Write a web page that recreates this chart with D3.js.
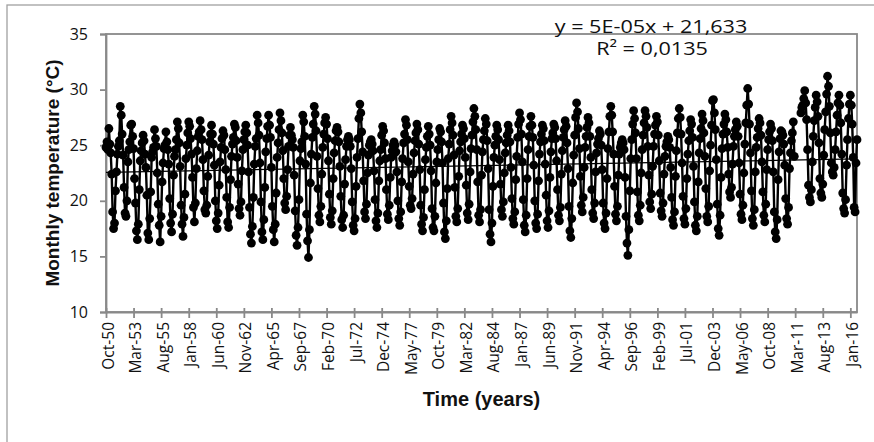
<!DOCTYPE html>
<html>
<head>
<meta charset="utf-8">
<script src="https://cdn.jsdelivr.net/npm/d3@7"></script>
<style>
  body { margin: 0; background: #fff; }
  svg { display: block; }
</style>
</head>
<body>
<div id="chart"></div>
<script>
// Monthly temperature (°C), first value = Oct 1950, one value per month
const t1950s = [
  24.8, 25.3, 24.6,                                                   // 1950 Oct-Dec
  26.5, 25.1, 24.3, 22.4, 19.0, 17.5, 18.0, 20.9, 22.6, 24.2, 24.9, 25.4, // 1951
  28.5, 27.7, 26.0, 24.1, 21.2, 18.9, 18.6, 20.0, 23.5, 24.6, 25.3, 26.8, // 1952
  26.9, 25.8, 24.7, 22.0, 19.8, 17.3, 16.5, 17.9, 21.0, 23.6, 24.5, 25.2, // 1953
  25.9, 25.4, 24.2, 23.0, 20.5, 17.1, 16.5, 18.4, 20.8, 23.9, 24.4, 24.8, // 1954
  26.4, 25.6, 24.9, 22.5, 19.7, 17.8, 16.3, 18.6, 21.7, 23.4, 24.7, 25.0, // 1955
  26.2, 25.3, 24.6, 23.3, 20.2, 18.0, 17.2, 18.8, 22.3, 24.0, 24.6, 25.5, // 1956
  27.1, 26.5, 25.2, 23.1, 19.6, 17.9, 16.8, 18.5, 20.6, 23.8, 25.0, 26.1, // 1957
  27.1, 26.7, 25.6, 24.2, 22.1, 19.4, 18.1, 19.8, 22.9, 24.5, 25.8, 26.2, // 1958
  27.2, 26.4, 25.5, 23.7, 20.9, 19.2, 18.9, 19.6, 22.2, 24.1, 25.3, 26.0  // 1959
];
const t1960s = [
  26.8, 26.0, 25.1, 23.2, 20.0, 18.2, 17.5, 18.9, 21.4, 23.5, 24.8, 25.6, // 1960
  26.3, 25.9, 24.6, 22.8, 20.3, 18.1, 17.6, 19.4, 21.9, 24.0, 25.1, 25.7, // 1961
  26.9, 26.6, 25.4, 23.9, 21.5, 19.3, 18.7, 19.9, 22.7, 24.6, 25.5, 26.2, // 1962
  26.8, 26.1, 25.0, 22.6, 19.4, 17.0, 16.2, 17.7, 20.3, 23.3, 24.9, 25.6, // 1963
  27.7, 27.0, 25.9, 23.4, 19.9, 17.2, 16.5, 18.3, 21.2, 24.4, 25.6, 26.7, // 1964
  27.7, 26.8, 25.7, 23.0, 19.5, 17.4, 16.3, 17.9, 20.7, 23.9, 25.2, 26.4, // 1965
  27.9, 27.2, 26.1, 24.5, 22.0, 19.8, 19.2, 20.4, 22.8, 24.9, 25.9, 26.6, // 1966
  25.9, 25.5, 24.8, 22.3, 19.1, 16.9, 16.0, 17.6, 20.1, 23.6, 24.7, 25.3, // 1967
  27.7, 27.1, 25.8, 23.3, 18.8, 16.4, 14.9, 17.4, 21.6, 24.2, 25.7, 26.9, // 1968
  28.5, 27.8, 26.3, 24.0, 21.1, 18.7, 18.1, 19.5, 22.4, 24.8, 26.0, 27.0  // 1969
];
const t1970s = [
  27.5, 26.9, 25.6, 23.6, 20.6, 18.5, 17.9, 19.1, 22.0, 24.3, 25.4, 26.3, // 1970
  26.6, 26.2, 25.3, 23.1, 20.4, 18.3, 17.6, 18.7, 21.5, 23.7, 24.9, 25.5, // 1971
  25.8, 25.5, 24.9, 22.9, 19.9, 17.8, 17.3, 18.4, 21.3, 23.9, 25.6, 27.4, // 1972
  28.7, 27.9, 26.2, 24.4, 21.8, 19.0, 18.4, 19.7, 22.5, 24.1, 25.0, 25.3, // 1973
  25.5, 25.1, 24.5, 22.7, 20.1, 18.2, 17.6, 18.9, 21.8, 23.6, 24.6, 25.9, // 1974
  26.7, 26.3, 25.2, 23.8, 21.0, 18.8, 18.3, 19.6, 22.1, 23.9, 24.5, 25.0, // 1975
  25.3, 25.0, 24.4, 22.6, 20.0, 18.4, 17.8, 19.0, 21.7, 23.8, 25.2, 26.0, // 1976
  27.3, 26.8, 25.5, 23.5, 21.3, 19.6, 19.3, 20.2, 22.4, 24.3, 25.4, 26.1, // 1977
  26.9, 26.4, 25.1, 22.8, 19.6, 17.9, 17.3, 18.5, 21.0, 23.7, 24.8, 25.8, // 1978
  26.7, 26.0, 25.0, 22.7, 19.3, 17.6, 17.3, 18.6, 21.6, 23.5, 24.6, 25.5  // 1979
];
const t1980s = [
  26.5, 26.2, 25.3, 23.4, 19.8, 17.2, 16.6, 18.2, 21.1, 23.8, 25.1, 26.4, // 1980
  27.6, 27.0, 25.9, 24.1, 21.2, 18.6, 18.1, 19.3, 22.2, 24.5, 25.3, 26.0, // 1981
  26.8, 26.5, 25.6, 23.9, 21.4, 18.9, 18.3, 19.7, 22.6, 24.7, 25.9, 27.1, // 1982
  28.3, 27.6, 26.4, 24.6, 21.7, 18.7, 18.1, 19.2, 22.3, 24.4, 25.5, 26.3, // 1983
  27.4, 26.9, 25.4, 22.9, 19.2, 17.0, 16.3, 18.0, 21.3, 23.9, 25.0, 25.8, // 1984
  26.8, 26.4, 25.5, 23.7, 21.5, 19.2, 18.6, 19.9, 22.5, 24.3, 25.2, 25.9, // 1985
  26.8, 26.3, 25.3, 23.0, 20.2, 18.4, 17.9, 19.0, 21.9, 24.0, 25.7, 26.9, // 1986
  27.9, 27.3, 26.0, 23.5, 20.1, 17.8, 17.2, 18.7, 22.0, 24.6, 25.8, 26.7, // 1987
  27.6, 26.8, 25.7, 23.2, 20.0, 18.0, 17.5, 18.8, 21.8, 24.2, 25.3, 26.0, // 1988
  26.8, 26.5, 25.4, 23.3, 20.5, 18.2, 17.6, 19.1, 22.1, 24.4, 25.6, 26.1  // 1989
];
const t1990s = [
  26.9, 26.6, 25.6, 23.6, 21.0, 18.7, 18.2, 19.4, 22.4, 24.5, 25.7, 26.4, // 1990
  27.2, 26.7, 25.2, 22.9, 19.5, 17.3, 16.7, 18.4, 21.6, 24.1, 25.9, 27.5, // 1991
  28.8, 28.0, 26.5, 24.7, 22.2, 19.6, 19.0, 20.3, 23.0, 24.8, 25.8, 26.6, // 1992
  27.5, 27.0, 25.8, 23.9, 21.0, 18.9, 18.4, 19.8, 22.6, 24.3, 25.1, 25.6, // 1993
  26.3, 26.0, 25.0, 22.8, 19.8, 18.0, 17.5, 18.9, 22.0, 24.7, 26.2, 27.6, // 1994
  28.5, 27.7, 26.2, 24.2, 21.3, 18.8, 18.2, 19.5, 22.3, 24.2, 24.8, 25.2, // 1995
  25.5, 25.2, 24.6, 22.1, 18.6, 16.2, 15.1, 17.4, 20.9, 23.8, 25.5, 26.9, // 1996
  28.1, 27.4, 26.1, 23.8, 20.8, 18.7, 18.2, 19.6, 22.5, 24.6, 25.9, 27.0, // 1997
  28.1, 27.6, 26.6, 24.9, 22.3, 19.9, 19.3, 20.6, 23.1, 24.9, 26.0, 26.8, // 1998
  27.6, 27.1, 25.9, 23.6, 20.7, 19.1, 18.6, 19.8, 22.4, 24.0, 24.9, 25.3  // 1999
];
const t2000s = [
  25.8, 25.5, 24.8, 23.0, 20.3, 18.3, 17.8, 19.0, 22.2, 24.5, 26.1, 27.4, // 2000
  28.3, 27.5, 26.0, 23.4, 20.4, 18.4, 17.9, 19.3, 22.0, 24.2, 25.4, 26.3, // 2001
  27.3, 26.9, 25.7, 23.1, 19.9, 17.8, 17.3, 18.6, 21.7, 24.3, 25.6, 26.5, // 2002
  27.8, 27.2, 26.1, 24.0, 21.1, 18.6, 18.1, 19.5, 22.7, 25.0, 26.8, 29.0, // 2003
  29.1, 27.9, 26.4, 23.7, 19.7, 17.5, 16.9, 18.7, 22.1, 24.7, 26.0, 26.9, // 2004
  27.8, 27.3, 26.2, 24.8, 22.4, 20.8, 20.3, 21.2, 23.3, 24.9, 25.8, 26.4, // 2005
  27.1, 26.7, 25.8, 23.4, 20.6, 18.8, 18.3, 19.6, 22.5, 25.1, 27.0, 28.6, // 2006
  30.1, 28.7, 26.9, 24.3, 20.9, 18.4, 17.8, 19.2, 22.6, 24.8, 25.7, 26.5, // 2007
  27.4, 27.0, 25.9, 23.5, 20.8, 18.7, 18.1, 19.7, 22.8, 24.6, 25.5, 26.2, // 2008
  26.9, 26.5, 25.4, 22.6, 19.0, 17.2, 16.6, 18.3, 21.9, 24.4, 25.6, 26.3  // 2009
];
// null = months missing in the record (early to late 2011)
const t2010s = [
  26.2, 25.9, 25.1, 23.2, 20.2, 18.4, 17.9, 19.4, 22.9, 24.3, 25.4, 26.1, // 2010
  27.1, 24.0, null, null, null, null, null, null, 27.9, 28.4, 28.6, 29.2, // 2011
  29.9, 28.8, 27.3, 24.6, 21.4, 20.3, 19.9, 21.0, 23.5, 25.8, 27.2, 28.4, // 2012
  29.5, 28.9, 27.6, 25.2, 22.0, 20.7, 20.3, 21.5, 24.1, 26.4, 28.0, 29.6, // 2013
  31.2, 30.3, 28.5, 26.1, 23.4, 22.6, 22.3, 23.0, 24.6, 26.2, 27.7, 28.8, // 2014
  29.5, 28.6, 27.0, 24.2, 20.7, 19.3, 18.9, 20.1, 23.2, 25.5, 27.4, 28.7, // 2015
  29.5, 28.6, 26.9, 23.9, 19.4, 19.0, 23.4, 25.5                          // 2016 Jan-Aug
];

const yTicks = [10, 15, 20, 25, 30, 35];
const xTickLabels = ["Oct-50", "Mar-53", "Aug-55", "Jan-58", "Jun-60", "Nov-62", "Apr-65",
  "Sep-67", "Feb-70", "Jul-72", "Dec-74", "May-77", "Oct-79", "Mar-82", "Aug-84", "Jan-87",
  "Jun-89", "Nov-91", "Apr-94", "Sep-96", "Feb-99", "Jul-01", "Dec-03", "May-06", "Oct-08",
  "Mar-11", "Aug-13", "Jan-16"];

// Excel linear trendline (x = Excel date serial)
const trendSlope = 5e-5;
const trendIntercept = 21.633;
const equationText = "y = 5E-05x + 21,633";
const r2Text = "R\u00B2 = 0,0135";

const width = 874, height = 442;
const plot = { left: 106, right: 857, top: 34, bottom: 312 };

const start = new Date(1950, 9, 1);
const values = [t1950s, t1960s, t1970s, t1980s, t1990s, t2000s, t2010s].flat();
const data = values.map((v, i) => ({ date: d3.timeMonth.offset(start, i), v }));

// tick labels like "Oct-50" -> dates (years 50..99 are 19xx)
const parseTick = s => {
  const d = d3.timeParse("%b-%y")(s);
  if (d.getFullYear() > 2030) d.setFullYear(d.getFullYear() - 100);
  return d;
};

const x = d3.scaleTime()
  .domain(d3.extent(data, d => d.date))
  .range([plot.left, plot.right]);
const y = d3.scaleLinear()
  .domain([10, 35])
  .range([plot.bottom, plot.top]);

const svg = d3.select("#chart").append("svg")
  .attr("width", width)
  .attr("height", height);

// outer chart border (only top/left visible in the crop)
svg.append("rect")
  .attr("x", 7).attr("y", 5)
  .attr("width", 900).attr("height", 470)
  .attr("fill", "#fff")
  .attr("stroke", "#a0a0a0")
  .attr("stroke-width", 1.3);

// plot area frame
svg.append("rect")
  .attr("x", plot.left).attr("y", plot.top)
  .attr("width", plot.right - plot.left)
  .attr("height", plot.bottom - plot.top)
  .attr("fill", "none")
  .attr("stroke", "#898989")
  .attr("stroke-width", 1.8);

// y axis ticks and labels
const yAxis = svg.append("g").attr("transform", `translate(${plot.left},0)`)
  .call(d3.axisLeft(y).tickValues(yTicks).tickSize(6).tickPadding(12).tickFormat(d3.format("d")));
yAxis.select(".domain").attr("stroke", "#898989").attr("stroke-width", 1.8);
yAxis.selectAll(".tick line").attr("stroke", "#898989").attr("stroke-width", 1.8);
yAxis.selectAll(".tick text")
  .attr("font-family", "'Open Sans', sans-serif")
  .attr("font-size", 16)
  .attr("fill", "#111");

// x axis ticks and rotated labels
const xAxis = svg.append("g").attr("transform", `translate(0,${plot.bottom})`)
  .call(d3.axisBottom(x).tickValues(xTickLabels.map(parseTick)).tickSize(0).tickFormat(""));
xAxis.select(".domain").attr("stroke", "#898989").attr("stroke-width", 1.8);
xAxis.selectAll(".tick line").remove();
xAxis.selectAll(".tick").append("line")
  .attr("y1", -4).attr("y2", 6)
  .attr("stroke", "#898989").attr("stroke-width", 1.8);
xAxis.selectAll(".tick text").remove();
xAxis.selectAll(".tick").append("text")
  .data(xTickLabels)
  .attr("transform", "translate(1,10) rotate(-90)")
  .attr("text-anchor", "end")
  .attr("dominant-baseline", "central")
  .attr("font-family", "'Open Sans', sans-serif")
  .attr("font-size", 15.5)
  .attr("fill", "#111")
  .text(d => d);

// temperature line with markers
const line = d3.line()
  .defined(d => d.v != null)
  .x(d => x(d.date))
  .y(d => y(d.v));

svg.append("path")
  .datum(data)
  .attr("fill", "none")
  .attr("stroke", "#000")
  .attr("stroke-width", 2.4)
  .attr("stroke-linejoin", "round")
  .attr("d", line);

svg.append("g")
  .selectAll("circle")
  .data(data.filter(d => d.v != null))
  .join("circle")
  .attr("cx", d => x(d.date))
  .attr("cy", d => y(d.v))
  .attr("r", 4.4)
  .attr("fill", "#000");

// trendline
const excelSerial = d => d3.timeDay.count(new Date(1899, 11, 30), d);
const trendEnds = d3.extent(data, d => d.date);
svg.append("line")
  .attr("x1", x(trendEnds[0]))
  .attr("x2", x(trendEnds[1]))
  .attr("y1", y(trendSlope * excelSerial(trendEnds[0]) + trendIntercept))
  .attr("y2", y(trendSlope * excelSerial(trendEnds[1]) + trendIntercept))
  .attr("stroke", "#000")
  .attr("stroke-width", 1.3);

// trend equation
svg.append("text")
  .attr("transform", "translate(651,33) scale(1.2,1)")
  .attr("text-anchor", "middle")
  .attr("font-family", "'Open Sans', sans-serif")
  .attr("font-size", 18)
  .attr("fill", "#111")
  .text(equationText);
svg.append("text")
  .attr("transform", "translate(652,55) scale(1.2,1)")
  .attr("text-anchor", "middle")
  .attr("font-family", "'Open Sans', sans-serif")
  .attr("font-size", 18)
  .attr("fill", "#111")
  .text(r2Text);

// axis titles
svg.append("text")
  .attr("transform", `translate(59,${(plot.top + plot.bottom) / 2}) rotate(-90)`)
  .attr("text-anchor", "middle")
  .attr("font-family", "'Liberation Sans', Arial, sans-serif")
  .attr("font-weight", "bold")
  .attr("font-size", 19)
  .attr("fill", "#111")
  .text("Monthly temperature  (\u00B0C)");

svg.append("text")
  .attr("x", (plot.left + plot.right) / 2)
  .attr("y", 406)
  .attr("text-anchor", "middle")
  .attr("font-family", "'Liberation Sans', Arial, sans-serif")
  .attr("font-weight", "bold")
  .attr("font-size", 20)
  .attr("fill", "#111")
  .text("Time (years)");
</script>
</body>
</html>
